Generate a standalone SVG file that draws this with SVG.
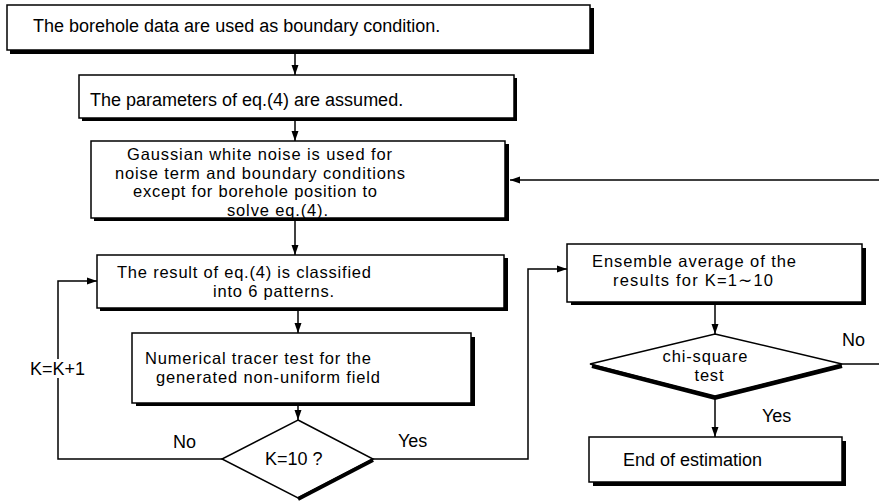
<svg xmlns="http://www.w3.org/2000/svg" width="879" height="501" viewBox="0 0 879 501">
<style>
.sh{fill:#000}
.bx{fill:#fff;stroke:#000;stroke-width:1.5}
.t{font-family:"Liberation Sans",Arial,sans-serif;font-size:18px;fill:#000}
.m{font-family:"Liberation Sans",Arial,sans-serif;font-size:16.5px;fill:#000}
.c{fill:none;stroke:#000;stroke-width:1.5}
.ds{fill:none;stroke:#000;stroke-width:4}
</style>
<defs>
<marker id="ah" viewBox="0 0 10 10" refX="10" refY="5" markerWidth="10" markerHeight="10" markerUnits="userSpaceOnUse" orient="auto">
<path d="M0,1.5 L10,5 L0,8.5 Z" fill="#000"/>
</marker>
</defs>
<rect width="879" height="501" fill="#fff"/>
<g id="connectors">
<line class="c" x1="295" y1="54" x2="295" y2="75" marker-end="url(#ah)"/>
<line class="c" x1="295" y1="121" x2="295" y2="141" marker-end="url(#ah)"/>
<line class="c" x1="295" y1="221" x2="295" y2="255" marker-end="url(#ah)"/>
<line class="c" x1="298" y1="311" x2="298" y2="333" marker-end="url(#ah)"/>
<line class="c" x1="298" y1="406" x2="298" y2="420" marker-end="url(#ah)"/>
<polyline class="c" points="222,459 58,459 58,281 97,281" marker-end="url(#ah)"/>
<polyline class="c" points="373,459 528,459 528,269 567,269" marker-end="url(#ah)"/>
<line class="c" x1="715" y1="305" x2="715" y2="334" marker-end="url(#ah)"/>
<line class="c" x1="715" y1="397" x2="715" y2="437" marker-end="url(#ah)"/>
<line class="c" x1="842" y1="364" x2="879" y2="364"/>
<line class="c" x1="879" y1="180" x2="510" y2="180" marker-end="url(#ah)"/>
<rect x="28" y="359" width="60" height="19" fill="#fff"/>
<text class="t" x="30" y="375">K=K+1</text>
<text class="t" x="173" y="448">No</text>
<text class="t" x="398" y="447">Yes</text>
<text class="t" x="842" y="346">No</text>
<text class="t" x="762" y="422">Yes</text>
</g>
<g id="n1">
<rect class="sh" x="10" y="8" width="584" height="46"/>
<rect class="bx" x="7" y="5" width="583" height="45"/>
<text class="t" x="33" y="32">The borehole data are used as boundary condition.</text>
</g>
<g id="n2">
<rect class="sh" x="82" y="78" width="435" height="43"/>
<rect class="bx" x="79" y="75" width="435" height="43"/>
<text class="t" x="90" y="106">The parameters of eq.(4) are assumed.</text>
</g>
<g id="n3">
<rect class="sh" x="94" y="144" width="415" height="77"/>
<rect class="bx" x="91" y="141" width="414" height="77"/>
<text class="m" x="127" y="160" textLength="265">Gaussian white noise is used for</text>
<text class="m" x="115" y="178.5" textLength="290">noise term and boundary conditions</text>
<text class="m" x="133" y="197" textLength="244">except for borehole position to</text>
<text class="m" x="227" y="215.5" textLength="101">solve eq.(4).</text>
</g>
<g id="n4">
<rect class="sh" x="100" y="258" width="408" height="53"/>
<rect class="bx" x="97" y="255" width="407" height="53"/>
<text class="m" x="117" y="278" textLength="254">The result of eq.(4) is classified</text>
<text class="m" x="213" y="296.5" textLength="121">into 6 patterns.</text>
</g>
<g id="n5">
<rect class="sh" x="136" y="337" width="339" height="69"/>
<rect class="bx" x="132" y="333" width="339" height="70"/>
<text class="m" x="145" y="364" textLength="226">Numerical tracer test for the</text>
<text class="m" x="156" y="382.5" textLength="224">generated non-uniform field</text>
</g>
<g id="n6">
<polygon class="bx" points="298,420 373,459 298,498 222,459"/>
<polyline class="ds" points="373,460 298,499"/>
<text class="t" x="265" y="465">K=10 ?</text>
</g>
<g id="n7">
<rect class="sh" x="571" y="248" width="295" height="57"/>
<rect class="bx" x="567" y="244" width="295" height="58"/>
<text class="m" x="592" y="267" textLength="204">Ensemble average of the</text>
<text class="m" x="613" y="285.5" textLength="160">results for K=1∼10</text>
</g>
<g id="n8">
<polygon class="bx" points="715,334 842,364 715,396 590,364"/>
<polyline class="ds" points="592,366 715,398 842,366"/>
<text class="m" x="705" y="362" text-anchor="middle" textLength="85">chi-square</text>
<text class="m" x="709" y="381" text-anchor="middle" textLength="29">test</text>
</g>
<g id="n9">
<rect class="sh" x="593" y="441" width="253" height="45"/>
<rect class="bx" x="589" y="437" width="253" height="45"/>
<text class="t" x="623" y="466">End of estimation</text>
</g>
</svg>
